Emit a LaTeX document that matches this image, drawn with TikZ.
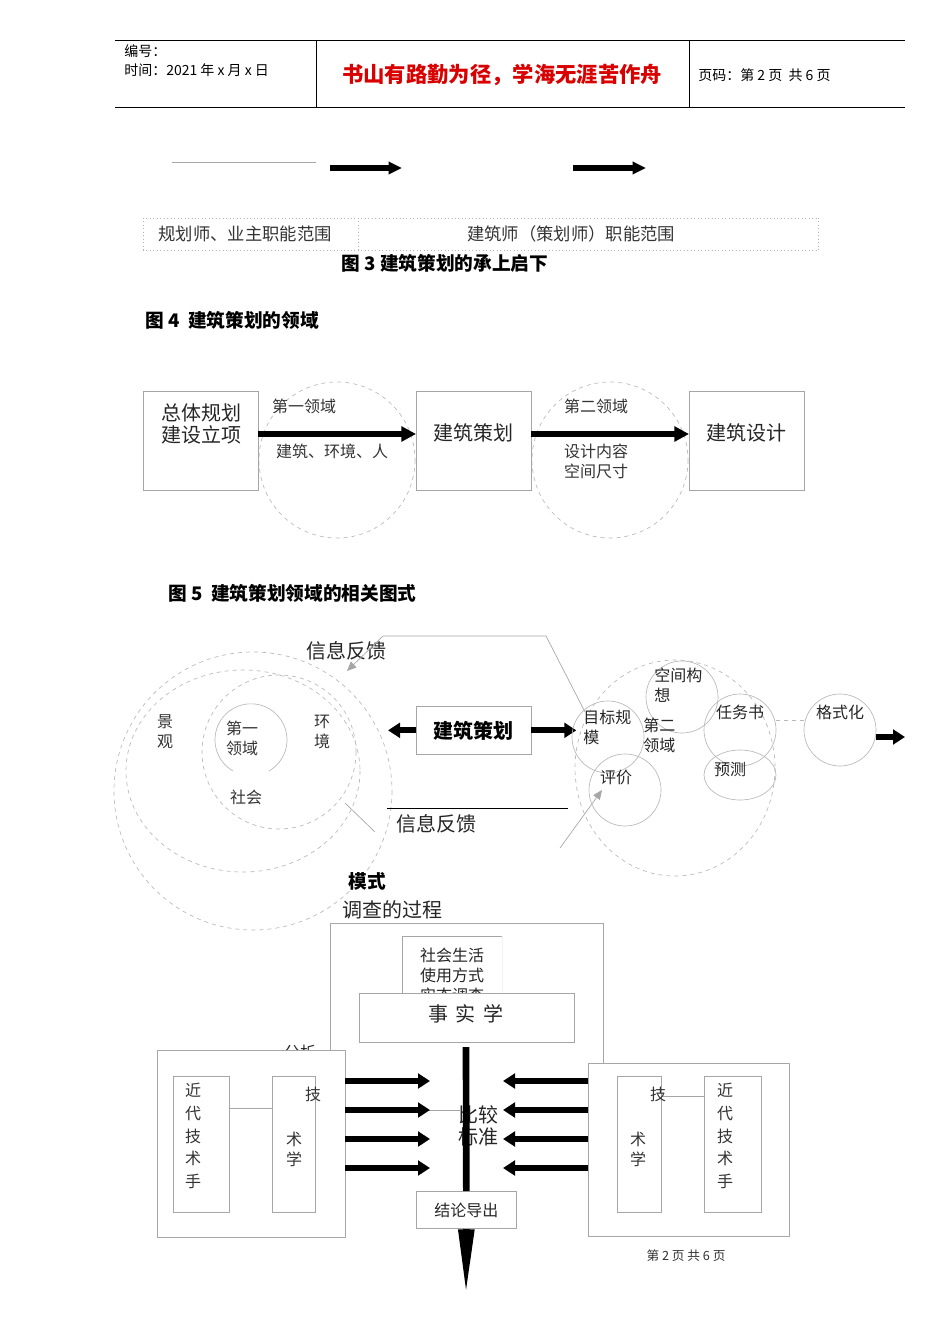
\documentclass[tikz,border=0pt]{standalone}
\usepackage{fontspec}
\setmainfont{Noto Sans CJK SC}
\usetikzlibrary{arrows.meta}
\newcommand{\fa}{\fontsize{10.5}{13}\selectfont}
\newcommand{\fb}{\fontsize{12}{15}\selectfont}
\newcommand{\fc}{\fontsize{14}{17}\selectfont}
\newcommand{\fd}{\fontsize{15}{17}\selectfont}
\begin{document}
\begin{tikzpicture}[x=0.75pt,y=-0.75pt,
 gbox/.style={draw=gray!70,line width=0.5pt,fill=white},
 dcirc/.style={draw=gray!55,dashed,line width=0.5pt},
 scirc/.style={draw=gray!55,line width=0.5pt},
 thin line/.style={draw=gray!70,line width=0.5pt},
 bigarrow/.style={line width=4.5pt,-{Triangle[length=11pt,width=11pt]}},
 txt/.style={inner sep=0pt,align=center},
 vt/.style={inner sep=0pt,align=center,font=\fb,text=black!80}]
\useasboundingbox[fill=white] (0,0) rectangle (950,1344);
% header
\draw[line width=0.6pt] (115,40)--(905,40) (115,107)--(905,107) (316,40)--(316,107) (689,40)--(689,107);
\node[txt,anchor=west,font=\fa] (h1) at (124,51) {编号：};
\node[txt,anchor=west,font=\fa] (h2) at (124,70) {时间：2021 年 x 月 x 日};
\node[txt,font=\fontsize{16}{19}\selectfont\bfseries,text=red!85!black] (h3) at (502,75) {书山有路勤为径，学海无涯苦作舟};
\node[txt,anchor=west,font=\fa] (h4) at (698,75) {页码：第 2 页 \ 共 6 页};
% fig 3
\coordinate (l1) at (172,162); \coordinate (l2) at (316,162);
\draw[thin line] (l1)--(l2);
\coordinate (a1) at (330,168); \coordinate (a2) at (402,168);
\coordinate (a3) at (573,168); \coordinate (a4) at (646,168);
\draw[line width=4pt,-{Triangle[length=10pt,width=9pt]}] (a1)--(a2);
\draw[line width=4pt,-{Triangle[length=10pt,width=9pt]}] (a3)--(a4);
\draw[gray!60,dotted,line width=0.6pt] (143,218)--(818,218) (143,250)--(818,250) (143,218)--(143,250) (358,218)--(358,250) (818,218)--(818,250);
\node[txt,font=\fontsize{13}{15}\selectfont,text=black!80] (r1) at (245,234) {规划师、业主职能范围};
\node[txt,font=\fontsize{13}{15}\selectfont,text=black!80] (r2) at (571,234) {建筑师（策划师）职能范围};
\node[txt,font=\fc\bfseries] (t3) at (445,263) {图 3 建筑策划的承上启下};
\node[txt,anchor=west,font=\fc\bfseries] (t4) at (145,320) {图 4 \ 建筑策划的领域};
% fig 4
\draw[dcirc] (337,460) circle (78);
\draw[dcirc] (610,460) circle (78);
\node[gbox,minimum width=86pt,minimum height=74pt,anchor=north west] (b1) at (143,391) {};
\node[gbox,minimum width=86pt,minimum height=74pt,anchor=north west] (b2) at (416,391) {};
\node[gbox,minimum width=86pt,minimum height=74pt,anchor=north west] (b3) at (689,391) {};
\node[txt,font=\fd,text=black!85,align=left] at (201,424) {总体规划\\建设立项};
\node[txt,font=\fd,text=black!85] at (473,433) {建筑策划};
\node[txt,font=\fd,text=black!85] at (746,433) {建筑设计};
\draw[bigarrow] (b1.east|-0,434)--(b2.west|-0,434);
\draw[bigarrow] (b2.east|-0,434)--(b3.west|-0,434);
\node[txt,font=\fb,text=black!80] at (304,406) {第一领域};
\node[txt,font=\fb,text=black!80] at (332,451) {建筑、环境、人};
\node[txt,font=\fb,text=black!80] at (596,406) {第二领域};
\node[txt,font=\fb,text=black!80,align=left] at (596,461) {设计内容\\空间尺寸};
% fig 5
\node[txt,anchor=west,font=\fc\bfseries] (t5) at (168,593) {图 5 \ 建筑策划领域的相关图式};
\draw[dcirc] (253,791) circle (139);
\draw[dcirc] (243,771) ellipse (117 and 101);
\draw[dcirc] (279,752) circle (77);
\draw[scirc] (233,771) arc (120:420:36);
\node[vt] at (165,732) {景\\观};
\node[vt] at (242,738) {第一\\领域};
\node[vt] at (322,732) {环\\境};
\node[vt] at (246,797) {社会};
\node[txt,font=\fd,text=black!85] (fb1) at (346,651) {信息反馈};
\node[txt,font=\fd,text=black!85] (fb2) at (436,824) {信息反馈};
\coordinate (p1) at (383,636); \coordinate (p2) at (546,636); \coordinate (p3) at (585,712);
\coordinate (p4) at (347,671);
\draw[thin line] (p3)--(p2)--(p1);
\draw[thin line,-{Triangle[length=7pt,width=6pt]}] (p1)--(p4);
\draw[line width=0.5pt] (387,808)--(568,808);
\draw[thin line] (345,803)--(375,832);
\coordinate (q1) at (560,848); \coordinate (q2) at (602,790);
\draw[thin line,-{Triangle[length=7pt,width=6pt]}] (q1)--(q2);
\node[gbox,minimum width=86pt,minimum height=36pt,anchor=north west] (jc) at (416,706) {};
\node[txt,font=\fd\bfseries] at (jc) {建筑策划};
\draw[line width=4.5pt,-{Triangle[length=9pt,width=11pt]}] (jc.west)--++(-28,0);
\draw[line width=4.5pt,-{Triangle[length=9pt,width=11pt]}] (jc.east)--++(45,0);
% right cluster
\draw[dcirc] (675,768) ellipse (100 and 108);
\draw[scirc] (608,737) circle (36);
\draw[scirc] (682,697) circle (36);
\draw[scirc] (740,730) circle (36);
\draw[scirc] (740,775) ellipse (36 and 25);
\draw[scirc] (625,790) circle (36);
\draw[scirc] (840,730) circle (36);
\draw[dcirc] (776,720)--(804,720);
\draw[line width=4.5pt,-{Triangle[length=9pt,width=11pt]}] (876,737)--(905,737);
\node[txt,font=\fb,text=black!85,align=left,anchor=north west] at (583,710) {目标规\\模};
\node[txt,font=\fb,text=black!85,align=left,anchor=north west] at (654,668) {空间构\\想};
\node[txt,font=\fb,text=black!85,align=left,anchor=north west] at (643,718) {第二\\领域};
\node[txt,font=\fb,text=black!85] at (740,712) {任务书};
\node[txt,font=\fb,text=black!85] at (730,769) {预测};
\node[txt,font=\fb,text=black!85] at (616,777) {评价};
\node[txt,font=\fb,text=black!85] at (840,712) {格式化};
% fig 6
\node[txt,font=\fc\bfseries] at (367,881) {模式};
\node[txt,font=\fd,text=black!85] at (392,910) {调查的过程};
\node[txt,font=\fb,text=black!85] at (300,1052) {分析};
\draw[thin line] (330,1050)--(330,923)--(603,923)--(603,1063);
\begin{scope}
\clip (402,936) rectangle (502,1000);
\draw[gray!70,line width=0.5pt] (402,1000)--(402,936)--(502,936)--(502,1000);
\node[txt,font=\fb,text=black!85] at (452,975) {社会生活\\使用方式\\实态调查};
\end{scope}
\node[gbox,minimum width=161pt,minimum height=37pt,anchor=north west] (ss) at (359,993) {};
\node[txt,font=\fd,text=black!85] at (466,1014) {事\,\ 实\,\ 学};
\node[gbox,minimum width=141pt,minimum height=140pt,anchor=north west] (lb) at (157,1050) {};
\node[gbox,minimum width=151pt,minimum height=130pt,anchor=north west] (rb) at (588,1063) {};
\node[gbox,minimum width=42pt,minimum height=102pt,anchor=north west] (li1) at (173,1076) {};
\node[gbox,minimum width=32pt,minimum height=102pt,anchor=north west] (li2) at (272,1076) {};
\node[gbox,minimum width=33pt,minimum height=102pt,anchor=north west] (ri1) at (617,1076) {};
\node[gbox,minimum width=43pt,minimum height=102pt,anchor=north west] (ri2) at (704,1076) {};
\draw[thin line] (li1.east|-0,1108)--(li2.west|-0,1108);
\draw[thin line] (ri1.east|-0,1096)--(ri2.west|-0,1096);
\node[vt,anchor=north] at (193,1083) {近\\[2pt]代\\[2pt]技\\[2pt]术\\[2pt]手};
\node[vt,anchor=north] at (725,1083) {近\\[2pt]代\\[2pt]技\\[2pt]术\\[2pt]手};
\node[vt] at (313,1094) {技};
\node[vt] at (294,1149) {术\\学};
\node[vt] at (658,1094) {技};
\node[vt] at (638,1149) {术\\学};
\draw[thin line] (345,1110)--(460,1110);
\node[txt,font=\fd,text=black!85] at (478,1126) {比较\\标准};
\foreach \y in {1081,1110,1139,1168}{
 \draw[line width=4.5pt,-{Triangle[length=9pt,width=11pt]}] (345,\y)--(430,\y);
 \draw[line width=4.5pt,-{Triangle[length=9pt,width=11pt]}] (588,\y)--(503,\y);
}
\node[gbox,minimum width=75pt,minimum height=28pt,anchor=north west] (jl) at (416,1191) {};
\coordinate (v1) at (466,1047);
\draw[line width=5pt] (v1)--(jl.north);
\node[txt,font=\fb,text=black!85] at (jl) {结论导出};
\coordinate (v2) at (466,1296);
\draw[line width=5pt,-{Triangle[length=50pt,width=11pt]}] (jl.south)--(v2);
\node[txt,font=\fontsize{9.5}{11}\selectfont,text=black!80] at (686,1256) {第 2 页 共 6 页};
\end{tikzpicture}
\end{document}
